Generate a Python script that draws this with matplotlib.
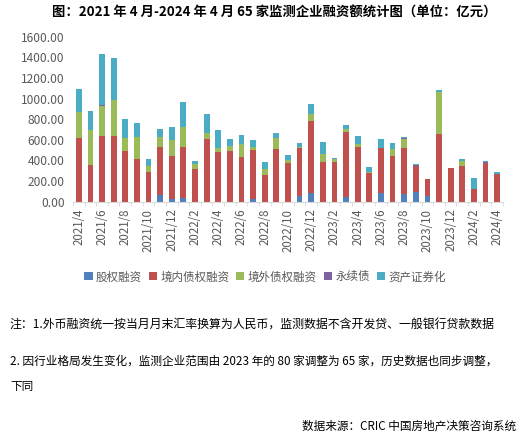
import matplotlib
matplotlib.use('Agg')
import matplotlib.pyplot as plt
import numpy as np

plt.rcParams['font.family'] = ['Noto Sans CJK SC', 'DejaVu Sans']

# months 2021/4 .. 2024/4
months = []
for y in range(2021, 2025):
    for m in range(1, 13):
        if (y == 2021 and m < 4) or (y == 2024 and m > 4):
            continue
        months.append(f'{y}/{m}')

# 亿元
equity = [0, 0, 0, 0, 0, 0, 0, 60, 22, 38, 0, 0, 0, 0, 0, 22, 0,
          0, 0, 55, 80, 0, 0, 45, 0, 0, 80, 0, 74, 90, 55, 0, 0,
          0, 0, 0, 0]
domestic = [620, 355, 636, 636, 490, 415, 288, 470, 420, 490, 317, 607, 481, 490, 436, 478, 258,
            510, 372, 468, 705, 381, 381, 633, 530, 281, 443, 446, 449, 256, 165, 656, 330,
            349, 120, 372, 268]
overseas = [250, 340, 290, 350, 125, 215, 58, 95, 155, 195, 45, 55, 35, 50, 123, 33, 55,
            104, 32, 5, 70, 78, 29, 26, 29, 7, 0, 64, 88, 0, 0, 410, 0,
            48, 0, 0, 0]
perpetual = [0, 0, 10, 0, 0, 0, 0, 0, 0, 0, 0, 0, 0, 0, 0, 0, 0,
             0, 0, 0, 0, 0, 0, 0, 0, 0, 0, 0, 8, 12, 0, 0, 0,
             0, 0, 12, 0]
abs_sec = [220, 185, 495, 405, 185, 130, 65, 80, 125, 245, 32, 185, 180, 65, 87, 65, 75,
           55, 48, 45, 90, 120, 13, 40, 77, 51, 88, 59, 12, 7, 0, 16, 0,
           17, 109, 10, 20]

series = [
    ('股权融资', equity, '#4F81BD'),
    ('境内债权融资', domestic, '#C0504D'),
    ('境外债权融资', overseas, '#9BBB59'),
    ('永续债', perpetual, '#8064A2'),
    ('资产证券化', abs_sec, '#4BACC6'),
]

fig = plt.figure(figsize=(5.25, 4.43), dpi=100)
ax = fig.add_axes([0.139, 0.545, 0.819, 0.372])

x = np.arange(len(months))
bottom = np.zeros(len(months))
for name, vals, col in series:
    vals = np.array(vals, dtype=float)
    ax.bar(x, vals, bottom=bottom, width=0.5, color=col, label=name, linewidth=0)
    bottom += vals

ax.set_xlim(-0.5, len(months) - 0.5)
ax.set_ylim(0, 1600)
ax.set_yticks(np.arange(0, 1601, 200))
ax.set_yticklabels([f'{v:.2f}' for v in np.arange(0, 1601, 200)], fontsize=8.6, color='#595959')
ax.set_xticks(x[::2])
ax.set_xticklabels(months[::2], rotation=90, fontsize=8.3, color='#595959')
ax.set_xticks(np.arange(-0.5, len(months), 1), minor=True)
ax.tick_params(axis='x', which='major', length=0, pad=5)
ax.tick_params(axis='x', which='minor', length=3, color='#D9D9D9')
ax.tick_params(axis='y', length=0, pad=6)
for s in ['top', 'right', 'left']:
    ax.spines[s].set_visible(False)
ax.spines['bottom'].set_color('#D9D9D9')

fig.text(0.522, 0.972, '图：2021 年 4 月-2024 年 4 月 65 家监测企业融资额统计图（单位：亿元）',
         ha='center', va='center', fontsize=9.6, fontweight='bold')

fig.legend(loc='center', bbox_to_anchor=(0.505, 0.375), ncol=5, frameon=False,
           fontsize=8.3, handlelength=0.7, handleheight=0.7, handletextpad=0.3,
           columnspacing=0.6, labelcolor='#595959')

fig.text(0.019, 0.266, '注：1.外币融资统一按当月月末汇率换算为人民币，监测数据不含开发贷、一般银行贷款数据',
         ha='left', va='center', fontsize=8.6)
fig.text(0.019, 0.185, '2. 因行业格局发生变化，监测企业范围由 2023 年的 80 家调整为 65 家，历史数据也同步调整，',
         ha='left', va='center', fontsize=8.4)
fig.text(0.019, 0.128, '下同', ha='left', va='center', fontsize=8.4)
fig.text(0.983, 0.038, '数据来源：CRIC 中国房地产决策咨询系统', ha='right', va='center', fontsize=8.4)

fig.savefig('out.png', dpi=100)
